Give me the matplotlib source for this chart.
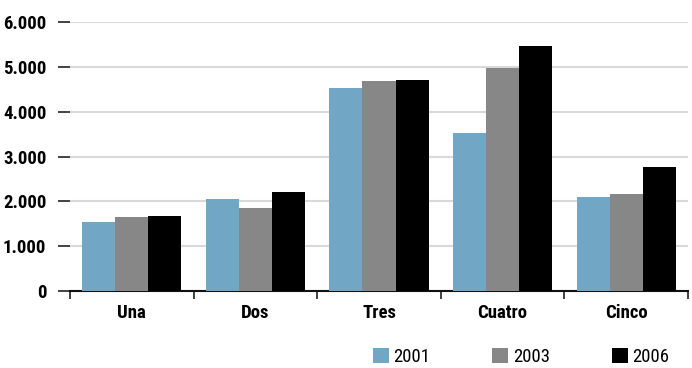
import matplotlib
matplotlib.use("Agg")
import matplotlib.pyplot as plt
import numpy as np

plt.rcParams["font.family"] = ["Roboto Condensed", "Liberation Sans Narrow", "Roboto", "DejaVu Sans"]

categories = ["Una", "Dos", "Tres", "Cuatro", "Cinco"]
years = ["2001", "2003", "2006"]
v2001 = [1540, 2050, 4530, 3530, 2100]
v2003 = [1650, 1850, 4690, 4980, 2165]
v2006 = [1675, 2210, 4710, 5470, 2770]
yticks = [0, 1000, 2000, 3000, 4000, 5000, 6000]
ytick_labels = ["0", "1.000", "2.000", "3.000", "4.000", "5.000", "6.000"]

colors = ["#72a6c5", "#878787", "#000000"]

fig = plt.figure(figsize=(6.92, 3.68), dpi=100)
ax = fig.add_axes([70 / 692, 1 - 291 / 368, 618 / 692, 269 / 368])

x = np.arange(len(categories))
w = 0.267
for i, (vals, col, lbl) in enumerate(zip([v2001, v2003, v2006], colors, years)):
    ax.bar(x + (i - 1) * w, vals, width=w, color=col, label=lbl, zorder=3)

ax.set_xlim(-0.5, 4.5)
ax.set_ylim(0, 6000)
ax.set_yticks(yticks)
ax.set_yticklabels(ytick_labels, fontweight="bold", fontsize=13.5)
ax.yaxis.grid(True, color="#d9d9d9", lw=1.5, zorder=0)
ax.tick_params(axis="y", length=9, width=1.2, color="#222222", pad=8)

# category boundaries as ticks, names at the centers
ax.set_xticks(np.arange(-0.5, 5, 1))
ax.set_xticklabels([])
ax.set_xticks(x, minor=True)
ax.set_xticklabels(categories, minor=True, fontweight="bold", fontsize=13.5)
ax.tick_params(axis="x", which="major", length=6, width=1.2, color="#222222")
ax.tick_params(axis="x", which="minor", length=0, pad=9)

for s in ["top", "right", "left"]:
    ax.spines[s].set_visible(False)
ax.spines["bottom"].set_linewidth(1.5)
ax.spines["bottom"].set_color("#111111")

fig.legend(loc="lower right", bbox_to_anchor=(0.992, -0.04), ncol=3, frameon=False,
           fontsize=13.5, handlelength=0.85, handleheight=0.85, handletextpad=0.25,
           columnspacing=3.3)

fig.savefig("out.png", dpi=100)
